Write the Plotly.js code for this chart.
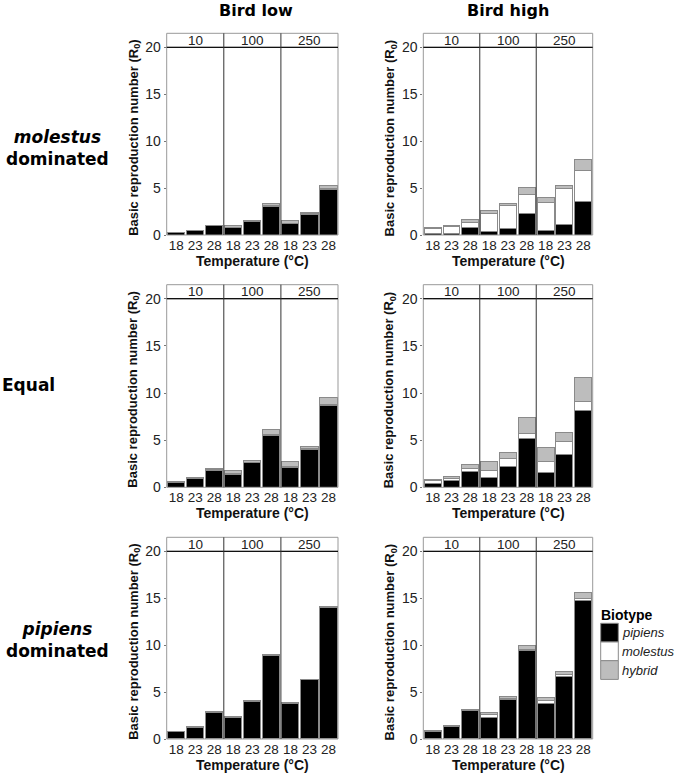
<!DOCTYPE html>
<html>
<head>
<meta charset="utf-8">
<script src="https://cdn.plot.ly/plotly-3.0.1.min.js"></script>
<style>html,body{margin:0;padding:0;background:#fff;}#chart{width:675px;height:775px;}</style>
</head>
<body>
<div id="chart"></div>
<script>
// ---- categories ----
const temps = ['18', '23', '28'];
const densities = ['10', '100', '250'];
const birdLevels = ['Bird low', 'Bird high'];
const scenarioLabels = ['<b><i>molestus</i><br>dominated</b>', '<b>Equal</b>', '<b><i>pipiens</i><br>dominated</b>'];
const biotypes = ['pipiens', 'molestus', 'hybrid'];
const yTicks = [0, 5, 10, 15, 20];

// ---- data (R0 contributions, order: density 10,100,250 x temp 18,23,28) ----
// molestus dominated, bird low
const molDomLow_pipiens  = [0.25, 0.47, 1.00, 0.78, 1.46, 3.00, 1.20, 2.20, 4.80];
const molDomLow_molestus = [0.01, 0.01, 0.01, 0.03, 0.02, 0.10, 0.05, 0.05, 0.12];
const molDomLow_hybrid   = [0.03, 0.03, 0.05, 0.15, 0.06, 0.22, 0.28, 0.17, 0.35];
// molestus dominated, bird high
const molDomHigh_pipiens  = [0.15, 0.20, 0.75, 0.36, 0.70, 2.30, 0.53, 1.14, 3.62];
const molDomHigh_molestus = [0.53, 0.73, 0.60, 1.88, 2.43, 2.03, 2.95, 3.80, 3.20];
const molDomHigh_hybrid   = [0.13, 0.10, 0.28, 0.32, 0.20, 0.75, 0.53, 0.35, 1.20];
// equal, bird low
const equalLow_pipiens  = [0.46, 0.90, 1.80, 1.38, 2.58, 5.50, 2.12, 4.03, 8.66];
const equalLow_molestus = [0.04, 0.03, 0.05, 0.07, 0.05, 0.10, 0.10, 0.10, 0.15];
const equalLow_hybrid   = [0.10, 0.08, 0.13, 0.32, 0.16, 0.48, 0.53, 0.20, 0.73];
// equal, bird high
const equalHigh_pipiens  = [0.38, 0.70, 1.66, 1.02, 2.19, 5.19, 1.59, 3.43, 8.16];
const equalHigh_molestus = [0.30, 0.25, 0.32, 0.75, 0.88, 0.53, 1.13, 1.41, 0.92];
const equalHigh_hybrid   = [0.20, 0.22, 0.39, 0.95, 0.60, 1.66, 1.52, 0.95, 2.58];
// pipiens dominated, bird low
const pipDomLow_pipiens  = [0.76, 1.25, 2.84, 2.33, 4.03, 8.88, 3.74, 6.30, 14.02];
const pipDomLow_molestus = [0.01, 0.01, 0.01, 0.01, 0.02, 0.03, 0.02, 0.03, 0.05];
const pipDomLow_hybrid   = [0.01, 0.02, 0.03, 0.04, 0.04, 0.08, 0.08, 0.06, 0.10];
// pipiens dominated, bird high
const pipDomHigh_pipiens  = [0.75, 1.31, 3.02, 2.31, 4.16, 9.38, 3.80, 6.64, 14.81];
const pipDomHigh_molestus = [0.05, 0.05, 0.04, 0.25, 0.18, 0.20, 0.25, 0.28, 0.18];
const pipDomHigh_hybrid   = [0.12, 0.10, 0.10, 0.25, 0.24, 0.33, 0.40, 0.29, 0.64];

// panels in row-major order (row = scenario, col = bird level)
const panels = [
  [molDomLow_pipiens, molDomLow_molestus, molDomLow_hybrid],
  [molDomHigh_pipiens, molDomHigh_molestus, molDomHigh_hybrid],
  [equalLow_pipiens, equalLow_molestus, equalLow_hybrid],
  [equalHigh_pipiens, equalHigh_molestus, equalHigh_hybrid],
  [pipDomLow_pipiens, pipDomLow_molestus, pipDomLow_hybrid],
  [pipDomHigh_pipiens, pipDomHigh_molestus, pipDomHigh_hybrid]
];

// ---- styling / geometry ----
const W = 675, H = 775;
const px = v => v / W;
const py = v => 1 - v / H;
const fills = ['#000000', '#ffffff', '#bdbdbd'];
const edge = '#8a8a8a';
const colX = [[166.7, 338.0], [423.3, 592.7]];
const rowY = [[47.3, 235.0], [298.7, 487.3], [551.3, 739.0]];
const stripH = 14;
const sans = 'Liberation Sans, Arial, sans-serif';
const wide = 'DejaVu Sans, Verdana, sans-serif';

const catLabels = densities.flatMap(d => temps.map(t => t));
const xPos = catLabels.map((_, i) => i);

const traces = [];
const layout = {
  width: W, height: H,
  margin: {l: 0, r: 0, t: 0, b: 0},
  paper_bgcolor: '#fff', plot_bgcolor: '#fff',
  barmode: 'stack', bargap: 0.1,
  showlegend: false,
  font: {family: sans, color: '#222'},
  shapes: [], annotations: []
};

panels.forEach((series, p) => {
  const r = Math.floor(p / 2), c = p % 2;
  const n = p + 1;
  const xa = 'x' + (n === 1 ? '' : n), ya = 'y' + (n === 1 ? '' : n);
  const xk = 'xaxis' + (n === 1 ? '' : n), yk = 'yaxis' + (n === 1 ? '' : n);
  series.forEach((vals, s) => {
    traces.push({
      type: 'bar', x: xPos, y: vals, name: biotypes[s],
      xaxis: xa, yaxis: ya, width: 0.9,
      marker: {color: fills[s], line: {color: edge, width: 1}},
      hoverinfo: 'skip', showlegend: false
    });
  });
  const ph = rowY[r][1] - rowY[r][0];
  layout[xk] = {
    domain: [px(colX[c][0]), px(colX[c][1])], anchor: ya,
    range: [-0.5, 8.5], tickmode: 'array', tickvals: xPos, ticktext: catLabels,
    showgrid: false, zeroline: false, showline: false, ticks: '',
    tickfont: {size: 13.5, color: '#222', family: sans}, fixedrange: true
  };
  layout[yk] = {
    domain: [py(rowY[r][1]), py(rowY[r][0])], anchor: xa,
    range: [0, 20], tickmode: 'array', tickvals: yTicks,
    showgrid: false, zeroline: false, showline: false,
    ticks: 'outside', ticklen: 2, tickcolor: '#777', tickwidth: 1,
    tickfont: {size: 14, color: '#222', family: sans}, fixedrange: true
  };
  const sTop = 1 + stripH / ph;
  // panel border
  layout.shapes.push({type: 'rect', xref: xa + ' domain', yref: ya + ' domain', x0: 0, x1: 1, y0: 0, y1: 1,
    line: {color: '#999', width: 1}});
  // strip
  layout.shapes.push({type: 'rect', xref: xa + ' domain', yref: ya + ' domain', x0: 0, x1: 1, y0: 1, y1: sTop,
    fillcolor: '#fff', line: {color: '#999', width: 1}});
  layout.shapes.push({type: 'line', xref: xa + ' domain', yref: ya + ' domain', x0: 0, x1: 1, y0: 1, y1: 1,
    line: {color: '#111', width: 1.2}});
  // facet separators
  [2.5, 5.5].forEach(v => layout.shapes.push({type: 'line', xref: xa, yref: ya + ' domain', x0: v, x1: v, y0: 0, y1: sTop,
    line: {color: '#333', width: 1}}));
  densities.forEach((d, k) => layout.annotations.push({xref: xa, yref: ya + ' domain', x: 1 + 3 * k, y: 1 + (stripH / 2) / ph,
    text: d, showarrow: false, font: {size: 13.5, color: '#222', family: sans}, xanchor: 'center', yanchor: 'middle'}));
  // y title
  layout.annotations.push({xref: 'paper', yref: 'paper', x: px(colX[c][0] - 33), y: py((rowY[r][0] + rowY[r][1]) / 2 - 3),
    text: '<b>Basic reproduction number (R<sub>0</sub>)</b>', textangle: -90, showarrow: false,
    font: {size: 13, color: '#111', family: sans}, xanchor: 'center', yanchor: 'middle'});
  // x title
  layout.annotations.push({xref: 'paper', yref: 'paper', x: px((colX[c][0] + colX[c][1]) / 2), y: py(rowY[r][1] + 26),
    text: '<b>Temperature (°C)</b>', showarrow: false,
    font: {size: 14, color: '#111', family: sans}, xanchor: 'center', yanchor: 'middle'});
});

// column titles
const colTitleX = [256, 508];
birdLevels.forEach((b, c) => layout.annotations.push({xref: 'paper', yref: 'paper', x: px(colTitleX[c]), y: py(11),
  text: '<b>' + b + '</b>', showarrow: false, font: {size: 16, color: '#000', family: wide}, xanchor: 'center', yanchor: 'middle'}));

// row labels
const rowLabelPos = [[57, 148], [29, 385], [57, 640]];
scenarioLabels.forEach((t, r) => layout.annotations.push({xref: 'paper', yref: 'paper', x: px(rowLabelPos[r][0]), y: py(rowLabelPos[r][1]),
  text: t, showarrow: false, align: 'center', font: {size: 17, color: '#000', family: wide}, xanchor: 'center', yanchor: 'middle'}));

// legend (drawn manually)
layout.annotations.push({xref: 'paper', yref: 'paper', x: px(599), y: py(615), text: '<b>Biotype</b>', showarrow: false,
  font: {size: 14, color: '#000', family: sans}, xanchor: 'left', yanchor: 'middle'});
const keyTop = 623.3, keyH = 18.7;
biotypes.forEach((b, s) => {
  const y0 = keyTop + s * keyH;
  layout.shapes.push({type: 'rect', xref: 'paper', yref: 'paper', x0: px(600.7), x1: px(618.3), y0: py(y0 + keyH), y1: py(y0),
    fillcolor: fills[s], line: {color: edge, width: 1}});
  layout.annotations.push({xref: 'paper', yref: 'paper', x: px(619.5), y: py(y0 + keyH / 2), text: '<i>' + b + '</i>', showarrow: false,
    font: {size: 13, color: '#222', family: sans}, xanchor: 'left', yanchor: 'middle'});
});

Plotly.newPlot('chart', traces, layout, {staticPlot: true, displayModeBar: false});
</script>
</body>
</html>
